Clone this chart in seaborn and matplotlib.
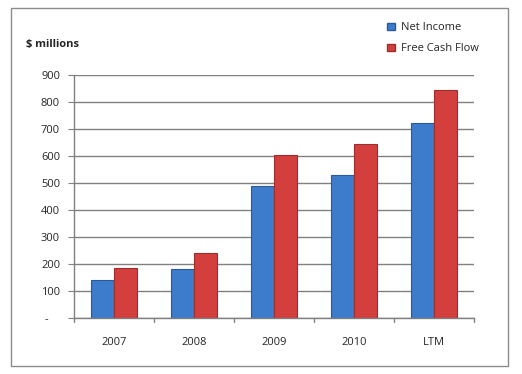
import pandas as pd
import matplotlib.pyplot as plt
import matplotlib.patches as mpatches
import seaborn as sns

# data ($ millions)
periods = ["2007", "2008", "2009", "2010", "LTM"]
net_income = [140, 180, 490, 530, 722]
free_cash_flow = [185, 240, 605, 645, 845]
series_names = ["Net Income", "Free Cash Flow"]
y_ticks = [0, 100, 200, 300, 400, 500, 600, 700, 800, 900]
y_tick_labels = ["-    "] + [str(v) for v in y_ticks[1:]]

df = pd.DataFrame({
    "period": periods * 2,
    "value": net_income + free_cash_flow,
    "series": [series_names[0]] * len(periods) + [series_names[1]] * len(periods),
})

sns.set_style("white")
plt.rcParams["font.family"] = ["Open Sans", "DejaVu Sans"]

fig = plt.figure(figsize=(5.22, 3.74), dpi=100)
ax = fig.add_axes([74 / 522, 1 - 318 / 374, 400 / 522, 243 / 374])

palette = {"Net Income": "#3d7bcc", "Free Cash Flow": "#d23f3d"}
edges = {"Net Income": "#2b5a99", "Free Cash Flow": "#9c2e2c"}
sns.barplot(data=df, x="period", y="value", hue="series", palette=palette,
            width=0.58, ax=ax, legend=False, saturation=1)
for container, name in zip(ax.containers, series_names):
    for bar in container:
        bar.set_edgecolor(edges[name])
        bar.set_linewidth(0.8)

ax.set_xlim(-0.5, len(periods) - 0.5)
ax.set_ylim(0, 900)
ax.set_yticks(y_ticks)
ax.set_yticklabels(y_tick_labels)
ax.yaxis.grid(True, color="#808080", linewidth=1)
ax.set_axisbelow(True)

# category ticks sit between the groups
ax.set_xticks(range(len(periods)))
ax.set_xticklabels(periods)
ax.tick_params(axis="x", length=0, pad=14, labelsize=8)
for b in [i - 0.5 for i in range(len(periods) + 1)]:
    ax.plot([b, b], [0, -0.018], transform=ax.get_xaxis_transform(),
            color="#808080", lw=1, clip_on=False)
ax.tick_params(axis="y", left=True, length=4, color="#808080", labelsize=8, pad=6)

for s in ["top", "right"]:
    ax.spines[s].set_visible(False)
for s in ["left", "bottom"]:
    ax.spines[s].set_color("#808080")
    ax.spines[s].set_linewidth(1)
ax.set_xlabel("")
ax.set_ylabel("")

fig.text(26 / 522, 1 - 44 / 374, "$ millions", fontsize=8, fontweight="bold",
         va="center", ha="left")

handles = [mpatches.Patch(facecolor=palette[n], edgecolor=edges[n]) for n in series_names]
fig.legend(handles, series_names, loc="upper left", bbox_to_anchor=(383 / 522, 1 - 18 / 374),
           frameon=False, fontsize=8, handlelength=0.7, handleheight=0.7,
           labelspacing=0.9, handletextpad=0.5, borderaxespad=0)

# outer chart border
fig.patches.append(mpatches.Rectangle((11 / 522, 1 - 366 / 374), 497 / 522, 358 / 374,
                                      transform=fig.transFigure, fill=False,
                                      edgecolor="#8c8c8c", linewidth=1))

fig.savefig("out.png", dpi=100)
